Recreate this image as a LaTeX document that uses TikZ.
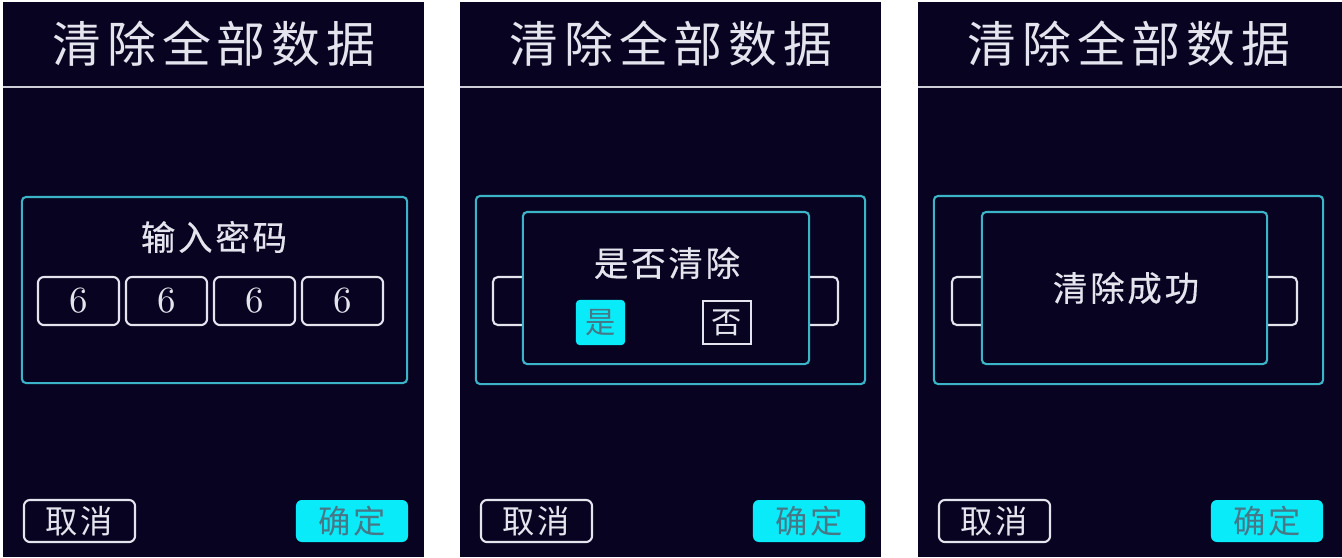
\documentclass[tikz,border=0pt]{standalone}
\usepackage{fontspec}
\newfontfamily\cjk{Noto Sans CJK SC}
\newfontfamily\cjktitle[LetterSpace=12]{Noto Sans CJK SC}
\newfontfamily\cjkdlg[LetterSpace=8,FakeBold=0.4]{Noto Sans CJK SC}
\newfontfamily\cjkbtn[LetterSpace=8]{Noto Sans CJK SC}
\definecolor{bgnavy}{RGB}{8,3,32}
\definecolor{framecyan}{RGB}{60,180,200}
\definecolor{btncyan}{RGB}{10,235,250}
\definecolor{txtwhite}{RGB}{228,228,238}
\definecolor{btntxt}{RGB}{70,120,135}
\definecolor{sepgray}{RGB}{205,205,215}
\tikzset{
  titletext/.style={inner sep=0pt, text=txtwhite, font=\cjktitle\fontsize{13.9pt}{14pt}\selectfont},
  dlgtext/.style={inner sep=0pt, text=txtwhite, font=\cjkdlg\fontsize{9.8pt}{10pt}\selectfont},
  sepline/.style={draw=sepgray, line width=0.6pt},
  frame/.style={draw=framecyan, fill=bgnavy, line width=0.6pt, rounded corners=1.2pt, inner sep=0pt},
  tab/.style={draw=txtwhite, fill=bgnavy, line width=0.6pt, rounded corners=1.4pt, inner sep=0pt,
    minimum width=1.2cm, minimum height=0.48cm},
  keybox/.style={draw=txtwhite, line width=0.6pt, rounded corners=1.7pt, inner sep=0pt,
    minimum width=0.81cm, minimum height=0.48cm, text=txtwhite, font=\fontsize{10.5pt}{11pt}\selectfont},
  cancelbtn/.style={draw=txtwhite, line width=0.6pt, rounded corners=1.7pt, inner sep=0pt,
    minimum width=1.11cm, minimum height=0.42cm, text=txtwhite, font=\cjkbtn\fontsize{9.2pt}{10pt}\selectfont},
  okbtn/.style={fill=btncyan, rounded corners=1.7pt, inner sep=0pt,
    minimum width=1.12cm, minimum height=0.42cm, text=btntxt, font=\cjkbtn\fontsize{9.2pt}{10pt}\selectfont},
  yesbtn/.style={fill=btncyan, rounded corners=1pt, inner sep=0pt,
    minimum width=0.49cm, minimum height=0.45cm, text=btntxt, font=\cjk\fontsize{8.6pt}{9pt}\selectfont},
  nobtn/.style={draw=txtwhite, line width=0.6pt, inner sep=0pt,
    minimum width=0.48cm, minimum height=0.43cm, text=txtwhite, font=\cjk\fontsize{8.6pt}{9pt}\selectfont}
}
\begin{document}
\begin{tikzpicture}[x=0.01cm, y=-0.01cm]
\useasboundingbox[fill=white] (0,0) rectangle (1342,557);

% common screen parts
\foreach \p/\xo/\w in {1/3/421, 2/460/421, 3/918/424}{
  \begin{scope}[shift={(\xo,0)}]
    \fill[bgnavy] (0,2) rectangle (\w,557);
    \node[titletext] (title\p) at (211,44) {清除全部数据};
    \draw[sepline] (0,87) -- (\w,87);
    \node[cancelbtn] (cancel\p) at (76.5,521) {取消};
    \node[okbtn] (ok\p) at (349,521) {确定};
  \end{scope}
}

% screen 1: password
\begin{scope}[shift={(3,0)}]
\node[frame, minimum width=3.85cm, minimum height=1.86cm] (pwbox) at (211.5,290) {};
\node[dlgtext] (pwlabel) at (211,237) {输入密码};
\node[keybox] (key1) at (75.5,301) {6};
\node[keybox] (key2) at (163.5,301) {6};
\node[keybox] (key3) at (251.5,301) {6};
\node[keybox] (key4) at (339.5,301) {6};
\end{scope}

% screen 2: confirm
\begin{scope}[shift={(460,0)}]
\node[frame, minimum width=3.89cm, minimum height=1.88cm] (askouter) at (210.5,290) {};
\node[tab] (asktabl) at (93,301) {};
\node[tab] (asktabr) at (318,301) {};
\node[frame, minimum width=2.86cm, minimum height=1.52cm] (askinner) at (206,288) {};
\node[dlgtext] (asklabel) at (207,263) {是否清除};
\node[yesbtn] (yes) at (140.5,322.5) {是};
\node[nobtn] (no) at (267,322.5) {否};
\end{scope}

% screen 3: done
\begin{scope}[shift={(918,0)}]
\node[frame, minimum width=3.89cm, minimum height=1.88cm] (doneouter) at (210.5,290) {};
\node[tab] (donetabl) at (94,301) {};
\node[tab] (donetabr) at (319,301) {};
\node[frame, minimum width=2.85cm, minimum height=1.52cm] (doneinner) at (206.5,288) {};
\node[dlgtext] (donelabel) at (208,288) {清除成功};
\end{scope}
\end{tikzpicture}
\end{document}
